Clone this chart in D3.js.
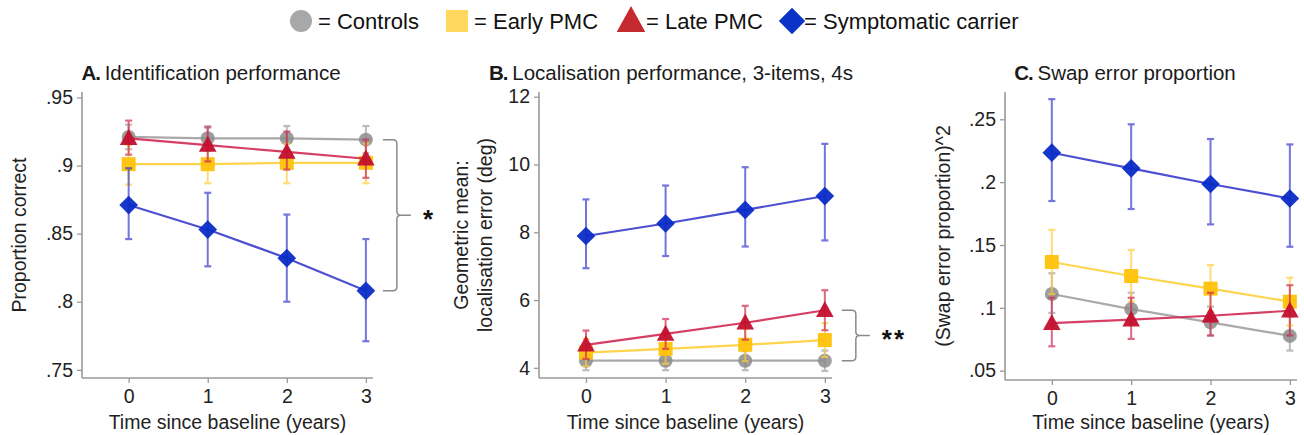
<!DOCTYPE html>
<html><head><meta charset="utf-8">
<script src="https://cdn.jsdelivr.net/npm/d3@7"></script>
<style>
html,body{margin:0;padding:0;background:#fff;}
svg{display:block;font-family:"Liberation Sans",Arial,Helvetica,sans-serif;}
</style></head>
<body><svg id="c" width="1304" height="435"></svg>
<script>
// ---------- data ----------
const years = [0, 1, 2, 3];
const groups = ["Controls", "Early PMC", "Late PMC", "Symptomatic carrier"];

// Panel A: proportion correct
const ctrlA = [0.921, 0.920, 0.920, 0.919];
const ctrlA_lo = [0.912, 0.911, 0.911, 0.909];
const ctrlA_hi = [0.930, 0.929, 0.929, 0.929];
const earlyA = [0.901, 0.901, 0.902, 0.902];
const earlyA_lo = [0.886, 0.887, 0.887, 0.887];
const earlyA_hi = [0.915, 0.915, 0.916, 0.916];
const lateA = [0.920, 0.915, 0.910, 0.905];
const lateA_lo = [0.908, 0.903, 0.897, 0.891];
const lateA_hi = [0.933, 0.928, 0.925, 0.919];
const sympA = [0.871, 0.853, 0.832, 0.808];
const sympA_lo = [0.846, 0.826, 0.800, 0.771];
const sympA_hi = [0.898, 0.880, 0.864, 0.846];

// Panel B: geometric mean localisation error (deg)
const ctrlB = [4.21, 4.21, 4.21, 4.21];
const ctrlB_lo = [3.93, 3.93, 3.93, 3.91];
const ctrlB_hi = [4.49, 4.49, 4.49, 4.51];
const earlyB = [4.45, 4.56, 4.68, 4.82];
const earlyB_lo = [4.05, 4.12, 4.20, 4.32];
const earlyB_hi = [4.85, 5.00, 5.16, 5.32];
const lateB = [4.68, 5.00, 5.33, 5.70];
const lateB_lo = [4.26, 4.56, 4.83, 5.11];
const lateB_hi = [5.10, 5.44, 5.83, 6.29];
const sympB = [7.89, 8.26, 8.66, 9.07];
const sympB_lo = [6.94, 7.30, 7.58, 7.76];
const sympB_hi = [8.97, 9.38, 9.92, 10.61];

// Panel C: (swap error proportion)^2
const ctrlC = [0.111, 0.099, 0.0885, 0.0777];
const ctrlC_lo = [0.096, 0.087, 0.078, 0.066];
const ctrlC_hi = [0.1275, 0.112, 0.101, 0.093];
const earlyC = [0.1365, 0.1253, 0.1153, 0.1049];
const earlyC_lo = [0.111, 0.105, 0.097, 0.086];
const earlyC_hi = [0.162, 0.146, 0.134, 0.124];
const lateC = [0.0878, 0.0906, 0.0937, 0.0977];
const lateC_lo = [0.0694, 0.0753, 0.078, 0.078];
const lateC_hi = [0.108, 0.108, 0.112, 0.118];
const sympC = [0.2234, 0.211, 0.1985, 0.187];
const sympC_lo = [0.185, 0.1786, 0.1664, 0.1486];
const sympC_hi = [0.266, 0.246, 0.2343, 0.230];

// tick labels
const ticksA = [0.75, 0.8, 0.85, 0.9, 0.95];
const tickLabelsA = [".75", ".8", ".85", ".9", ".95"];
const ticksB = [4, 6, 8, 10, 12];
const tickLabelsB = ["4", "6", "8", "10", "12"];
const ticksC = [0.05, 0.1, 0.15, 0.2, 0.25];
const tickLabelsC = [".05", ".1", ".15", ".2", ".25"];

// ---------- styles ----------
const markerFill = ["#8c8c8c", "#ffc20a", "#c3102e", "#0a2cc6"];
const lineCol = ["#a0a0a0", "#ffcf3a", "#cf2a52", "#3a3ccc"];
const legendFill = ["#a8a8a8", "#ffd65e", "#c42a30", "#0a34c8"];
const shapes = ["circle", "square", "triangle", "diamond"];
const axisCol = "#9a9a9a";
const textCol = "#222";

const svg = d3.select("#c");

function shapePath(shape, s) {
  const p = d3.path();
  if (shape === "circle") { p.arc(0, 0, s * 0.5, 0, 2 * Math.PI); }
  else if (shape === "square") { p.rect(-s / 2, -s / 2, s, s); }
  else if (shape === "triangle") { p.moveTo(0, -s * 0.58); p.lineTo(s * 0.55, s * 0.42); p.lineTo(-s * 0.55, s * 0.42); p.closePath(); }
  else { p.moveTo(0, -s * 0.55); p.lineTo(s * 0.55, 0); p.lineTo(0, s * 0.55); p.lineTo(-s * 0.55, 0); p.closePath(); }
  return p.toString();
}
const markerSize = [14, 14, 16, 17];

// ---------- legend ----------
const legendX = [301, 457, 631, 792];
const legendTextX = [318, 474, 646, 804];
const legendSize = [22, 22, 26, 24];
groups.forEach((g, i) => {
  svg.append("path").attr("d", shapePath(shapes[i], legendSize[i]))
    .attr("transform", `translate(${legendX[i]},21)`).attr("fill", legendFill[i]);
  svg.append("text").attr("x", legendTextX[i]).attr("y", 29)
    .attr("font-size", 22).attr("fill", "#111").text("= " + g);
});

// ---------- panels ----------
const panels = [
  { letter: "A.", title: "Identification performance", titleX: 211,
    x0: 82, x1: 373, yTop: 92, yBot: 378, yDom: [0.744, 0.954],
    ticks: ticksA, labels: tickLabelsA, ylab: ["Proportion correct"], ylabX: 26,
    series: [[ctrlA, ctrlA_lo, ctrlA_hi], [earlyA, earlyA_lo, earlyA_hi], [lateA, lateA_lo, lateA_hi], [sympA, sympA_lo, sympA_hi]],
    bracket: { top: [0, 3], bot: [3, 3], label: "*" } },
  { letter: "B.", title: "Localisation performance, 3-items, 4s", titleX: 671,
    x0: 539, x1: 832, yTop: 92, yBot: 378, yDom: [3.7, 12.14],
    ticks: ticksB, labels: tickLabelsB, ylab: ["Geometric mean:", "localisation error (deg)"], ylabX: 468,
    series: [[ctrlB, ctrlB_lo, ctrlB_hi], [earlyB, earlyB_lo, earlyB_hi], [lateB, lateB_lo, lateB_hi], [sympB, sympB_lo, sympB_hi]],
    bracket: { top: [2, 3], bot: [0, 3], label: "**" } },
  { letter: "C.", title: "Swap error proportion", titleX: 1125,
    x0: 1005, x1: 1297, yTop: 92, yBot: 380, yDom: [0.0426, 0.2717],
    ticks: ticksC, labels: tickLabelsC, ylab: ["(Swap error proportion)^2"], ylabX: 950,
    series: [[ctrlC, ctrlC_lo, ctrlC_hi], [earlyC, earlyC_lo, earlyC_hi], [lateC, lateC_lo, lateC_hi], [sympC, sympC_lo, sympC_hi]],
    bracket: null }
];

panels.forEach(P => {
  const g = svg.append("g");
  const x = d3.scaleLinear().domain([-0.59, 3.09]).range([P.x0, P.x1]);
  const y = d3.scaleLinear().domain(P.yDom).range([P.yBot, P.yTop]);

  // title
  const t = g.append("text").attr("x", P.titleX).attr("y", 80).attr("text-anchor", "middle")
    .attr("font-size", 20.5).attr("fill", "#1a1a1a");
  t.append("tspan").attr("font-weight", "bold").attr("letter-spacing", -1).text(P.letter + " ");
  t.append("tspan").text(P.title);

  // y axis
  const ya = d3.axisLeft(y).tickValues(P.ticks).tickFormat((d, i) => P.labels[i]).tickSize(5).tickPadding(4);
  const yg = g.append("g").attr("transform", `translate(${P.x0},0)`).call(ya);
  yg.select(".domain").attr("d", `M0,${P.yTop}V${P.yBot}`);
  // x axis
  const xa = d3.axisBottom(x).tickValues(years).tickFormat(d3.format("d")).tickSize(5).tickPadding(6);
  const xg = g.append("g").attr("transform", `translate(0,${P.yBot})`).call(xa);
  xg.select(".domain").attr("d", `M${P.x0},0H${P.x1}`);
  [yg, xg].forEach(a => {
    a.select(".domain").attr("stroke", axisCol).attr("stroke-width", 1.6);
    a.selectAll(".tick line").attr("stroke", axisCol).attr("stroke-width", 1.3);
    a.selectAll(".tick text").attr("font-size", 19.5).attr("fill", textCol)
      .attr("font-family", "'Liberation Sans',Arial,sans-serif");
  });

  // axis titles
  g.append("text").attr("x", (P.x0 + P.x1) / 2).attr("y", 429).attr("text-anchor", "middle")
    .attr("font-size", 19.5).attr("fill", textCol).text("Time since baseline (years)");
  const yc = (P.yTop + P.yBot) / 2;
  P.ylab.forEach((l, i) => {
    g.append("text").attr("transform", `translate(${P.ylabX + i * 24},${yc}) rotate(-90)`)
      .attr("text-anchor", "middle").attr("font-size", 19.5).attr("fill", textCol).text(l);
  });

  // series
  P.series.forEach((s, k) => {
    const [m, lo, hi] = s;
    const eg = g.append("g").attr("opacity", 0.7);
    years.forEach((yr, i) => {
      eg.append("line").attr("x1", x(yr)).attr("x2", x(yr)).attr("y1", y(lo[i])).attr("y2", y(hi[i]))
        .attr("stroke", lineCol[k]).attr("stroke-width", 2);
      [lo[i], hi[i]].forEach(v => eg.append("line").attr("x1", x(yr) - 3.5).attr("x2", x(yr) + 3.5)
        .attr("y1", y(v)).attr("y2", y(v)).attr("stroke", lineCol[k]).attr("stroke-width", 2.2));
    });
    g.append("path").datum(m).attr("fill", "none").attr("stroke", lineCol[k]).attr("stroke-width", 2.2)
      .attr("opacity", 0.9)
      .attr("d", d3.line().x((d, i) => x(years[i])).y(d => y(d)));
    g.selectAll(null).data(m).enter().append("path")
      .attr("d", shapePath(shapes[k], markerSize[k]))
      .attr("transform", (d, i) => `translate(${x(years[i])},${y(d)})`)
      .attr("fill", markerFill[k]).attr("opacity", k === 0 ? 0.85 : 0.95);
  });

  // bracket
  if (P.bracket) {
    const B = P.bracket;
    const yt = y(P.series[B.top[0]][0][B.top[1]]);
    const yb = y(P.series[B.bot[0]][0][B.bot[1]]);
    const xs = x(3) + 17, xv = xs + 14, xn = xv + 14, ym = (yt + yb) / 2, r = 4;
    const d = `M${xs},${yt}H${xv - r}Q${xv},${yt} ${xv},${yt + r}V${ym - r}Q${xv},${ym} ${xv + r},${ym}H${xn}` +
      `M${xv + r},${ym}Q${xv},${ym} ${xv},${ym + r}V${yb - r}Q${xv},${yb} ${xv - r},${yb}H${xs}`;
    g.append("path").attr("d", d).attr("fill", "none").attr("stroke", "#8a8a8a").attr("stroke-width", 1.5);
    g.append("text").attr("x", xn + 12).attr("y", ym + 13).attr("font-size", 26).attr("font-weight", "bold")
      .attr("fill", "#111").attr("letter-spacing", 2).text(B.label);
  }
});
</script></body></html>
